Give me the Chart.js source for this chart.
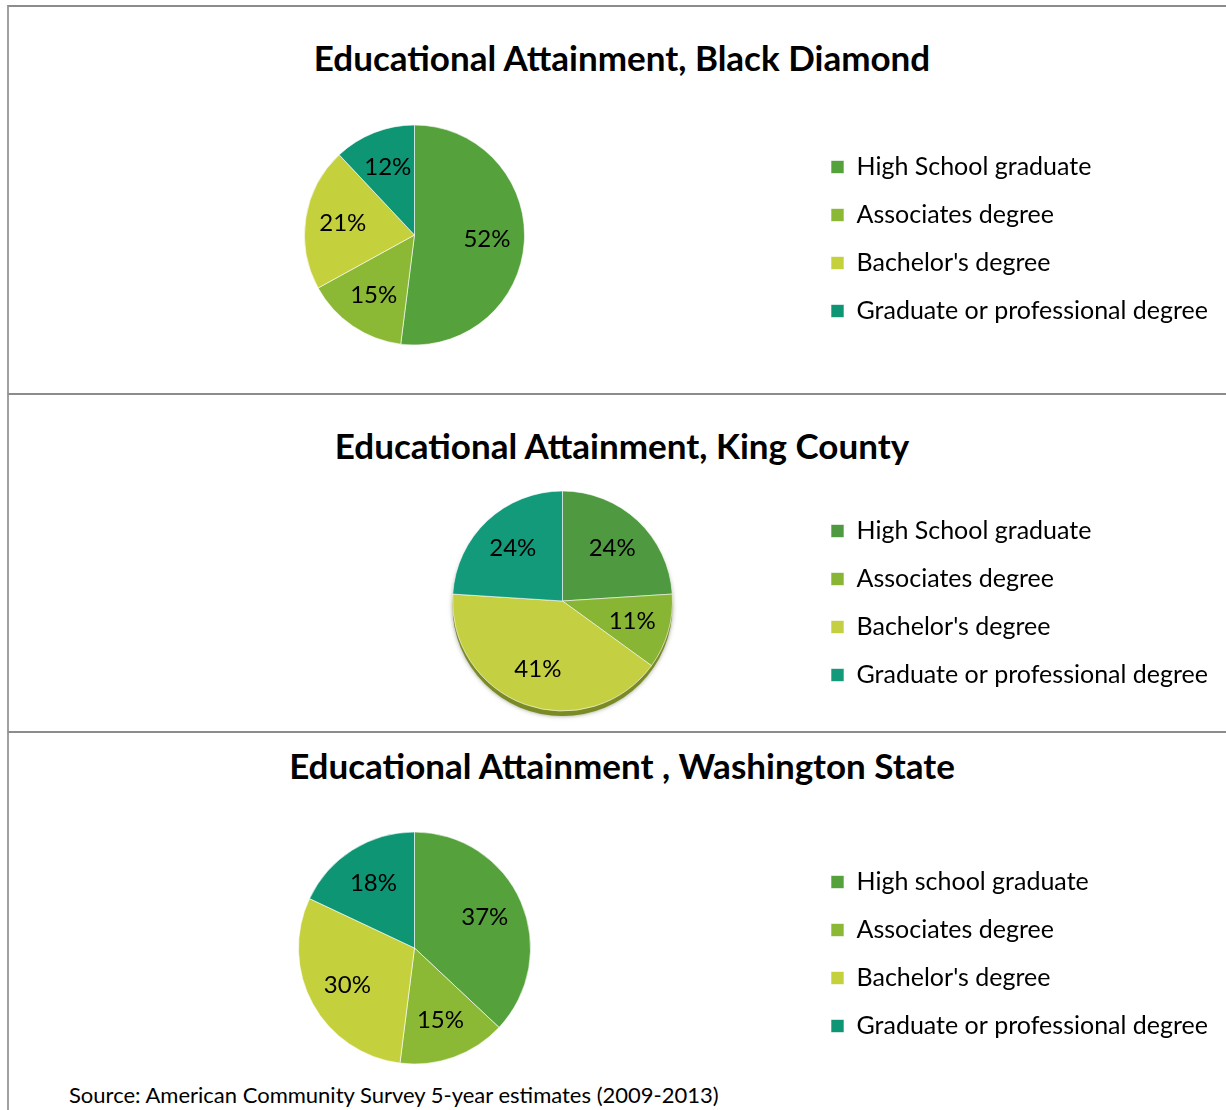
<!DOCTYPE html>
<html lang="en">
<head>
<meta charset="UTF-8">
<title>Educational Attainment</title>
<style>
    body {
        margin: 0;
        width: 1226px;
        height: 1110px;
        position: relative;
        overflow: hidden;
        background: #fff;
        font-family: 'Lato', sans-serif;
        color: #000;
    }
    .panel {
        position: absolute;
        left: 7px;
        width: 1240px;
        border-top: 2px solid #8c8c8c;
        border-left: 2px solid #a0a0a0;
    }
    .title {
        position: absolute;
        left: 0;
        width: 1244px;
        text-align: center;
        font-weight: bold;
        font-size: 35px;
    }
    canvas {
        position: absolute;
    }
    .source {
        position: absolute;
        left: 69px;
        top: 1081px;
        font-size: 22px;
    }
</style>
<script src="https://cdn.jsdelivr.net/npm/chart.js"></script>
</head>
<body>
    <div class="panel" style="top:5px;height:388px"></div>
    <div class="panel" style="top:393px;height:338px"></div>
    <div class="panel" style="top:731px;height:400px"></div>

    <div class="title" style="top:36px">Educational Attainment, Black Diamond</div>
    <div class="title" style="top:424px">Educational Attainment, King County</div>
    <div class="title" style="top:744px">Educational Attainment , Washington State</div>

    <canvas id="bd" width="1205" height="260" style="left:21px;top:105px"></canvas>
    <canvas id="kc" width="909" height="260" style="left:317px;top:471px"></canvas>
    <canvas id="wa" width="1205" height="260" style="left:21px;top:818px"></canvas>

    <div class="source">Source: American Community Survey 5-year estimates (2009-2013)</div>

<script>
// categories
const categories = ['High School graduate', 'Associates degree', "Bachelor's degree", 'Graduate or professional degree'];
const categoriesWA = ['High school graduate', 'Associates degree', "Bachelor's degree", 'Graduate or professional degree'];

// percent values per area
const blackDiamond = [52, 15, 21, 12];
const kingCounty = [24, 11, 41, 24];
const washington = [37, 15, 30, 18];

const colors = ['#55a13c', '#8cb935', '#c4d03c', '#0e9574'];
const colorsKC = ['#4f9a40', '#88b533', '#c4cf42', '#139a7b'];

// percent labels inside slices
const pctLabels = {
    id: 'pctLabels',
    afterDatasetsDraw(chart) {
        const ctx = chart.ctx;
        const meta = chart.getDatasetMeta(0);
        const values = chart.data.datasets[0].data;
        ctx.save();
        ctx.font = '24px Lato';
        ctx.fillStyle = '#000';
        ctx.textAlign = 'center';
        ctx.textBaseline = 'middle';
        meta.data.forEach((arc, i) => {
            const p = arc.getProps(['x', 'y', 'startAngle', 'endAngle', 'outerRadius'], true);
            const mid = (p.startAngle + p.endAngle) / 2;
            const r = p.outerRadius * 0.66;
            ctx.fillText(values[i] + '%', p.x + Math.cos(mid) * r, p.y + Math.sin(mid) * r);
        });
        ctx.restore();
    }
};

// soft rim under the King County pie
const pieShadow = {
    id: 'pieShadow',
    beforeDatasetsDraw(chart) {
        const arc = chart.getDatasetMeta(0).data[0];
        if (!arc) return;
        const p = arc.getProps(['x', 'y', 'outerRadius'], true);
        const ctx = chart.ctx;
        ctx.save();
        ctx.fillStyle = '#7a8a25';
        ctx.shadowColor = 'rgba(60,60,20,0.5)';
        ctx.shadowBlur = 4;
        ctx.beginPath();
        ctx.arc(p.x, p.y + 5, p.outerRadius, 0, Math.PI * 2);
        ctx.fill();
        ctx.restore();
    }
};

// legendGap nudges the legend rows down a little (empty legend title)
function makePie(id, labels, values, cols, radius, legendGap, extra) {
    return new Chart(document.getElementById(id), {
        type: 'pie',
        data: {
            labels: labels,
            datasets: [{
                data: values,
                backgroundColor: cols,
                borderColor: 'rgba(255,255,255,0.6)',
                borderWidth: 1,
                radius: radius
            }]
        },
        options: {
            responsive: false,
            animation: false,
            layout: { padding: { right: 8 } },
            plugins: {
                legend: {
                    position: 'right',
                    title: {
                        display: true,
                        text: '',
                        padding: 0,
                        font: { size: legendGap, lineHeight: 1 }
                    },
                    labels: {
                        boxWidth: 13,
                        boxHeight: 13,
                        padding: 23,
                        color: '#000',
                        font: { family: 'Lato', size: 25 }
                    }
                },
                tooltip: { enabled: false }
            }
        },
        plugins: extra ? [pieShadow, pctLabels] : [pctLabels]
    });
}

makePie('bd', categories, blackDiamond, colors, 110, 8, false);
makePie('kc', categories, kingCounty, colorsKC, 110, 4, true);
makePie('wa', categoriesWA, washington, colors, 116, 12, false);
</script>
</body>
</html>
